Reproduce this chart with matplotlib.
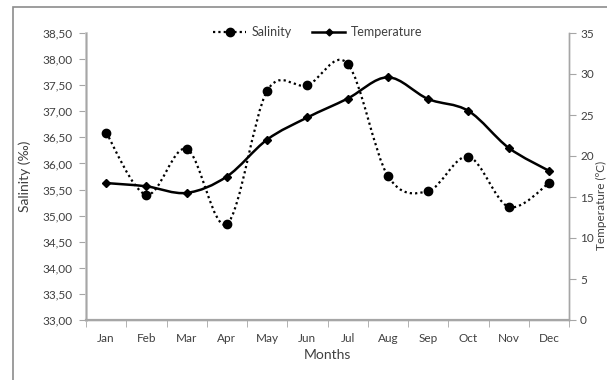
import matplotlib
matplotlib.use("Agg")
from matplotlib import pyplot as plt
from matplotlib.path import Path
from matplotlib.patches import PathPatch, Rectangle
from matplotlib.lines import Line2D
from matplotlib.ticker import FixedLocator, FuncFormatter
import numpy as np

months = ['Jan', 'Feb', 'Mar', 'Apr', 'May', 'Jun', 'Jul', 'Aug', 'Sep', 'Oct', 'Nov', 'Dec']
salinity = [36.59, 35.40, 36.28, 34.84, 37.39, 37.50, 37.91, 35.76, 35.47, 36.13, 35.17, 35.62]
temperature = [16.7, 16.3, 15.5, 17.5, 22.0, 24.7, 27.0, 29.6, 26.95, 25.5, 21.0, 18.2]

sal_ticks = [33.0, 33.5, 34.0, 34.5, 35.0, 35.5, 36.0, 36.5, 37.0, 37.5, 38.0, 38.5]
temp_ticks = [0, 5, 10, 15, 20, 25, 30, 35]

plt.rcParams['font.family'] = ['Lato', 'DejaVu Sans']
GREY = '#a6a6a6'
TXT = '#404040'


def smooth_path(xs, ys):
    # excel-style smoothed line: catmull-rom turned into cubic bezier segments
    pts = np.column_stack([xs, ys]).astype(float)
    ext = np.vstack([pts[0], pts, pts[-1]])
    verts = [pts[0]]
    codes = [Path.MOVETO]
    for i in range(len(pts) - 1):
        p0, p1, p2, p3 = ext[i], ext[i + 1], ext[i + 2], ext[i + 3]
        verts += [p1 + (p2 - p0) / 6, p2 - (p3 - p1) / 6, p2]
        codes += [Path.CURVE4] * 3
    return Path(verts, codes)


fig = plt.figure(figsize=(6.07, 3.80), dpi=100)
fig.patches.append(Rectangle((13 / 607, -0.1), 1.2, 1 - 7 / 380 + 0.1, transform=fig.transFigure,
                             fill=False, edgecolor='#8c8c8c', linewidth=1.2))

ax = fig.add_axes([86 / 607, 60 / 380, 483 / 607, 287 / 380])
ax2 = ax.twinx()

x = np.arange(len(months))

# salinity on the left axis
ax.add_patch(PathPatch(smooth_path(x, salinity), fill=False, edgecolor='black',
                       linewidth=1.6, linestyle=(0, (1, 1.4))))
ax.plot(x, salinity, linestyle='none', marker='o', markersize=6, color='black')

# temperature on the right axis
ax2.add_patch(PathPatch(smooth_path(x, temperature), fill=False, edgecolor='black', linewidth=1.8))
ax2.plot(x, temperature, linestyle='none', marker='D', markersize=4, color='black')

ax.set_xlim(-0.5, len(months) - 0.5)
ax.set_ylim(33.0, 38.5)
ax2.set_ylim(0, 35)

ax.set_yticks(sal_ticks)
ax.yaxis.set_major_formatter(FuncFormatter(lambda v, p: f'{v:.2f}'.replace('.', ',')))
ax2.set_yticks(temp_ticks)

ax.set_xticks(x)
ax.set_xticklabels(months)
ax.xaxis.set_minor_locator(FixedLocator(np.arange(-0.5, len(months), 1)))
ax.tick_params(axis='x', which='major', length=0, pad=9, labelsize=8.5, labelcolor=TXT)
ax.tick_params(axis='x', which='minor', length=5, direction='out', color=GREY)
ax.tick_params(axis='y', length=5, direction='out', color=GREY, labelsize=8.5, labelcolor=TXT, pad=5)
ax2.tick_params(axis='y', length=5, direction='out', color=GREY, labelsize=8.5, labelcolor=TXT, pad=3)

for a in (ax, ax2):
    a.spines['top'].set_visible(False)
    for s in ('left', 'right', 'bottom'):
        a.spines[s].set_color(GREY)
        a.spines[s].set_linewidth(1.0)
ax.spines['bottom'].set_linewidth(1.6)
ax.spines['left'].set_color('#d0d0d0')
ax.spines['left'].set_linewidth(2)

ax.set_ylabel('Salinity (‰)', fontsize=10, color=TXT, labelpad=8)
ax.set_xlabel('Months', fontsize=10, color=TXT, labelpad=4)
fig.text(607 / 607, 1 - 205 / 380, 'Temperature (ºC)', rotation=90, fontsize=8.5, color=TXT,
         ha='right', va='center')

handles = [
    Line2D([], [], color='black', linewidth=1.6, linestyle=(0, (1, 1.4)), marker='o', markersize=6),
    Line2D([], [], color='black', linewidth=1.8, marker='D', markersize=3.5),
]
fig.legend(handles, ['Salinity', 'Temperature'], loc='center', bbox_to_anchor=(318 / 607, 1 - 32 / 380),
           ncol=2, frameon=False, fontsize=9, handlelength=2.6, columnspacing=1.6,
           handletextpad=0.5, labelcolor=TXT)

fig.savefig('out.png', dpi=100)
plt.close(fig)
